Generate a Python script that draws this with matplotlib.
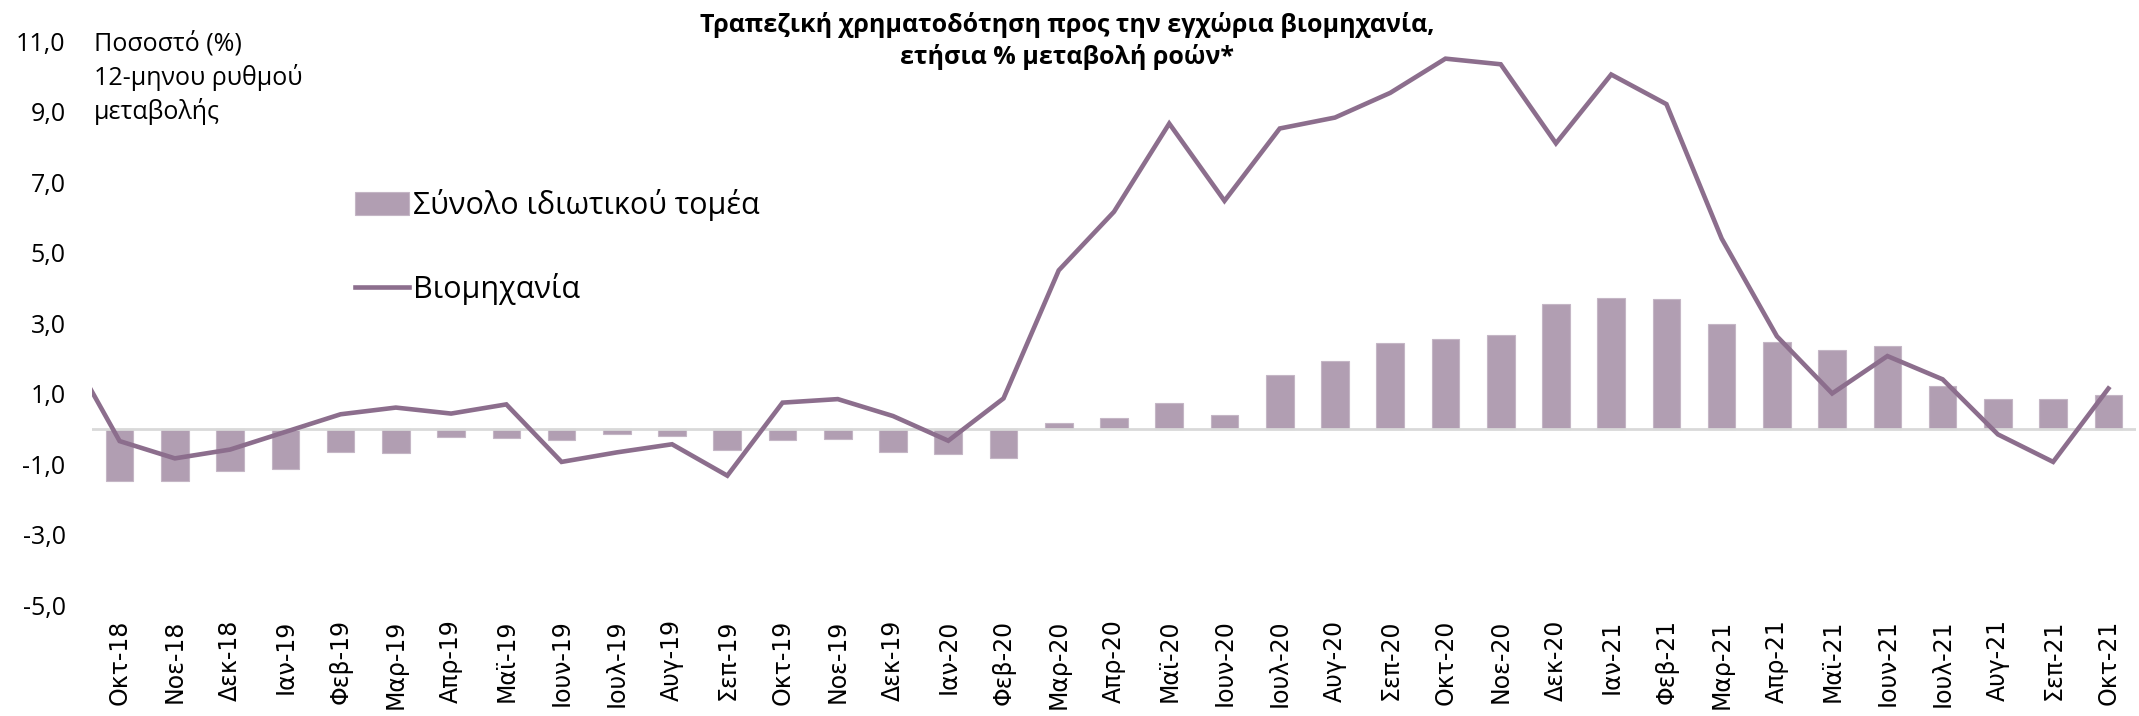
import matplotlib
matplotlib.use("Agg")
import matplotlib.pyplot as plt
import numpy as np
from matplotlib.ticker import FuncFormatter

# ==== ΔΕΔΟΜΕΝΑ ====
months = ["Οκτ-18", "Νοε-18", "Δεκ-18", "Ιαν-19", "Φεβ-19", "Μαρ-19", "Απρ-19",
          "Μαϊ-19", "Ιουν-19", "Ιουλ-19", "Αυγ-19", "Σεπ-19", "Οκτ-19", "Νοε-19",
          "Δεκ-19", "Ιαν-20", "Φεβ-20", "Μαρ-20", "Απρ-20", "Μαϊ-20", "Ιουν-20",
          "Ιουλ-20", "Αυγ-20", "Σεπ-20", "Οκτ-20", "Νοε-20", "Δεκ-20", "Ιαν-21",
          "Φεβ-21", "Μαρ-21", "Απρ-21", "Μαϊ-21", "Ιουν-21", "Ιουλ-21", "Αυγ-21",
          "Σεπ-21", "Οκτ-21"]

# Σύνολο ιδιωτικού τομέα (ράβδοι)
private_total = [-1.47, -1.46, -1.19, -1.13, -0.66, -0.69, -0.21, -0.24, -0.31,
                 -0.14, -0.20, -0.59, -0.31, -0.29, -0.65, -0.72, -0.83, 0.18,
                 0.32, 0.75, 0.40, 1.53, 1.94, 2.43, 2.56, 2.66, 3.54, 3.72,
                 3.70, 2.97, 2.48, 2.24, 2.35, 1.22, 0.85, 0.84, 0.98]

# Βιομηχανία (γραμμή) - η γραμμή ξεκινά από τον Σεπ-18, που κόβεται στο άκρο
industry_prev = 2.46  # Σεπ-18
industry = [-0.34, -0.83, -0.58, -0.08, 0.42, 0.61, 0.44, 0.70, -0.93, -0.66,
            -0.43, -1.32, 0.75, 0.85, 0.37, -0.33, 0.87, 4.50, 6.16, 8.66, 6.47,
            8.52, 8.83, 9.53, 10.50, 10.34, 8.10, 10.05, 9.21, 5.40, 2.63, 1.01,
            2.07, 1.41, -0.15, -0.93, 1.15]

title = "Τραπεζική χρηματοδότηση προς την εγχώρια βιομηχανία,\nετήσια % μεταβολή ροών*"
y_note = "Ποσοστό (%)\n12-μηνου ρυθμού\nμεταβολής"
# ==================

BAR_COLOR = "#b19eb2"
LINE_COLOR = "#8c6e8d"
W, H = 2139, 716

plt.rcParams["font.family"] = ["Open Sans", "DejaVu Sans"]

fig = plt.figure(figsize=(W / 100, H / 100), dpi=100)
ax = fig.add_axes([92 / W, 1 - 605.5 / H, (2136 - 92) / W, (605.5 - 41) / H])

x = np.arange(len(months))
bars = ax.bar(x, private_total, width=0.5, color=BAR_COLOR, edgecolor="#c4b6c5",
              linewidth=0.8, zorder=2, label="Σύνολο ιδιωτικού τομέα")
ax.axhline(0, color="#d9d9d9", linewidth=2, zorder=3)
line, = ax.plot(np.concatenate([[-1], x]), [industry_prev] + industry,
                color=LINE_COLOR, linewidth=3.3, zorder=4,
                solid_joinstyle="miter", label="Βιομηχανία")

ax.set_xlim(-0.5, len(months) - 0.5)
ax.set_ylim(-5, 11)
ax.set_yticks(np.arange(-5, 12, 2))
ax.yaxis.set_major_formatter(FuncFormatter(lambda v, p: f"{v:.1f}".replace(".", ",")))
ax.set_xticks(x)
ax.set_xticklabels(months, rotation=90, family="DejaVu Sans", fontsize=17)
ax.tick_params(axis="x", length=0, pad=10)
ax.tick_params(axis="y", length=0, pad=19, labelsize=18)
for s in ax.spines.values():
    s.set_visible(False)

fig.text(1067 / W, 1 - 41 / H, title, ha="center", va="center", fontsize=18,
         fontweight="bold", linespacing=1.35)
fig.text(94 / W, 1 - 78 / H, y_note, ha="left", va="center", fontsize=18,
         linespacing=1.33)

ax.legend(handles=[bars, line], loc="upper left", bbox_to_anchor=(355 / W, 1 - 189 / H),
          bbox_transform=fig.transFigure, frameon=False, fontsize=22,
          borderpad=0, borderaxespad=0, handlelength=1.76, handleheight=0.75,
          handletextpad=0.15, labelspacing=1.7)

fig.savefig("out.png", dpi=100)
